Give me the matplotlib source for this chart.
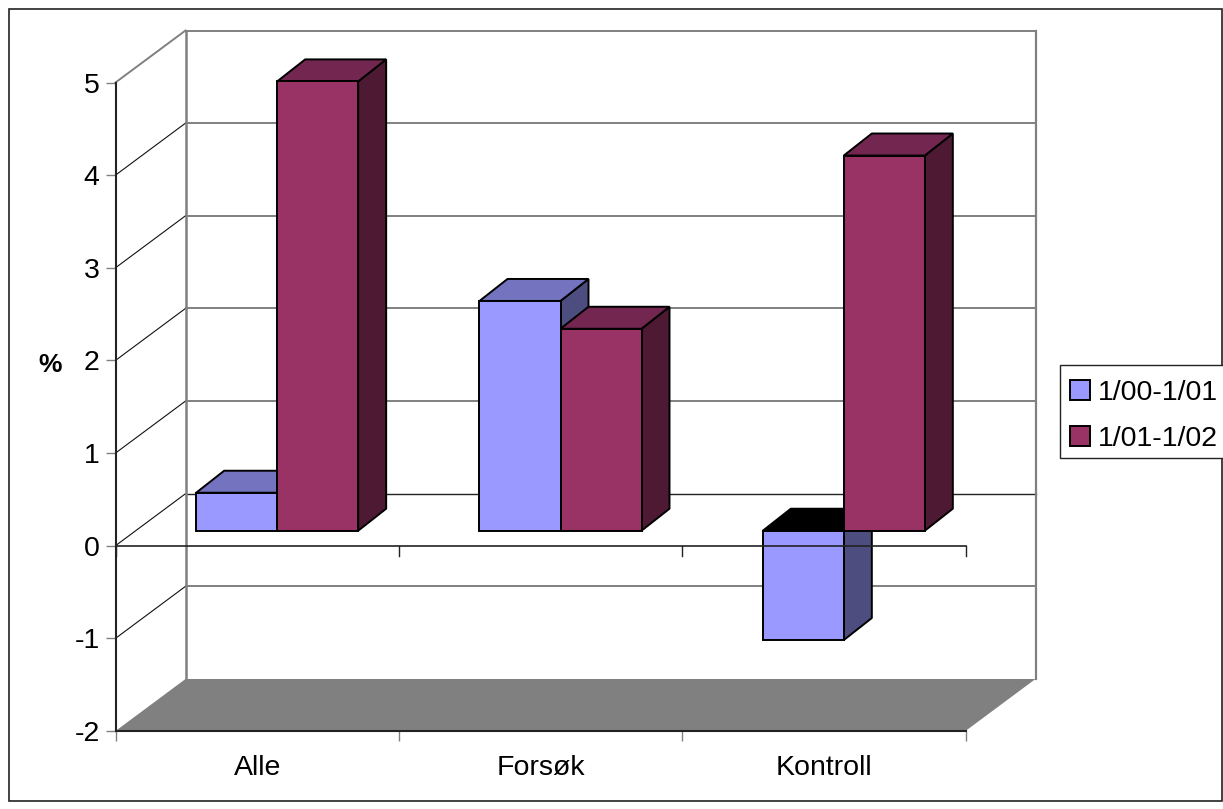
#!/usr/bin/python3
# 3D looking excel bar chart, percent change per group

import matplotlib
matplotlib.use("Agg")
import matplotlib.pyplot as plt
from matplotlib.patches import Patch, Polygon, Rectangle

plt.rcParams['font.family'] = ['Liberation Sans', 'DejaVu Sans']
plt.rcParams['axes.unicode_minus'] = False

categories = ["Alle", "Forsøk", "Kontroll"]
series_names = ["1/00-1/01", "1/01-1/02"]
values_1 = [0.41, 2.48, -1.18]
values_2 = [4.85, 2.18, 4.05]
y_ticks = [-2, -1, 0, 1, 2, 3, 4, 5]

W, H = 1223, 809
X0, X1, Y_TOP, Y_BOT = 115.5, 965.5, 82.5, 731

blue, blue_top, blue_side = "#9999FF", "#7373BF", "#4D4D80"
red, red_top, red_side = "#993366", "#732650", "#4D1933"
gray = "#808080"
dark = "#222222"

fig = plt.figure(figsize=(W / 100, H / 100), dpi=100)
fig.patch.set_facecolor("white")
fig.add_artist(Rectangle((8.5 / W, 1 - 800.5 / H), (1222 - 8.5) / W, (800.5 - 9) / H,
                         transform=fig.transFigure, fill=False, ec=dark, lw=1.2))

ax = fig.add_axes([X0 / W, 1 - Y_BOT / H, (X1 - X0) / W, (Y_BOT - Y_TOP) / H])
ax.set_xlim(0, 3)
ax.set_ylim(-2, 5)
ax.patch.set_visible(False)

# pixels -> data
px_x = 3 / (X1 - X0)
px_y = 7 / (Y_BOT - Y_TOP)
wall_dx, wall_dy = 70 * px_x, 52 * px_y
bar_dx, bar_dy = 28 * px_x, 22 * px_y
shift_x, base_y = 20 * px_x, 15 * px_y
bar_w = 81 * px_x

# floor
ax.add_patch(Polygon([(0, -2), (3, -2), (3 + wall_dx, -2 + wall_dy), (wall_dx, -2 + wall_dy)],
                     fc=gray, ec="none", clip_on=False, zorder=1))

# walls and grid
for t in y_ticks[1:]:
    col = dark if t == 0 else gray
    lw = 1.0 if t == 0 else 1.4
    ax.plot([wall_dx, 3 + wall_dx], [t + wall_dy, t + wall_dy], color=col, lw=lw, clip_on=False, zorder=1.5)
    diag = gray if t == 5 else "#111111"
    ax.plot([0, wall_dx], [t, t + wall_dy], color=diag, lw=1.4 if t == 5 else 0.8, clip_on=False, zorder=1.5)
ax.plot([wall_dx, wall_dx], [-2 + wall_dy, 5 + wall_dy], color=gray, lw=1.8, clip_on=False, zorder=1.6)
ax.plot([3 + wall_dx, 3 + wall_dx], [-2 + wall_dy, 5 + wall_dy], color=gray, lw=1.6, clip_on=False, zorder=1.6)


def draw_bar(x_left, v, face, top, side, z):
    x_right = x_left + bar_w
    hi = base_y + max(v, 0)
    lo = base_y + min(v, 0)
    ax.add_patch(Polygon([(x_right, lo), (x_right + bar_dx, lo + bar_dy),
                          (x_right + bar_dx, hi + bar_dy), (x_right, hi)],
                         fc=side, ec="black", lw=1.4, clip_on=False, zorder=z, joinstyle="bevel"))
    ax.add_patch(Polygon([(x_left, hi), (x_right, hi), (x_right + bar_dx, hi + bar_dy),
                          (x_left + bar_dx, hi + bar_dy)],
                         fc="black" if v < 0 else top, ec="black", lw=1.4, clip_on=False, zorder=z,
                         joinstyle="bevel"))
    ax.bar(x_left, v, bar_w, bottom=base_y, align="edge", color=face, edgecolor="black",
           linewidth=1.4, clip_on=False, zorder=z)


for i in range(len(categories)):
    center = i + 0.5 + shift_x
    draw_bar(center - bar_w, values_1[i], blue, blue_top, blue_side, 3 + i)
    draw_bar(center, values_2[i], red, red_top, red_side, 3.5 + i)

# zero line in front of the bars
ax.plot([0, 3], [0, 0], color=dark, lw=1.2, clip_on=False, zorder=8)
for i in range(4):
    ax.plot([i, i], [0, -10 * px_y], color=dark, lw=1.0, clip_on=False, zorder=8)

for s in ["top", "right"]:
    ax.spines[s].set_visible(False)
for s in ["left", "bottom"]:
    ax.spines[s].set_color(dark)
    ax.spines[s].set_linewidth(1.5)
    ax.spines[s].set_zorder(9)

ax.set_yticks(y_ticks)
ax.set_xticks([0, 1, 2, 3])
ax.set_xticklabels([])
ax.set_xticks([0.5, 1.5, 2.5], minor=True)
ax.set_xticklabels(categories, minor=True, fontsize=20.5, color="black")
ax.tick_params(axis="x", which="major", length=7.5, width=1.0, color=gray, direction="out")
ax.tick_params(axis="x", which="minor", length=0, pad=17.5)
ax.tick_params(axis="y", length=7.5, width=1.0, color=gray, direction="out", labelsize=20.5, pad=4)

fig.text(50 / W, 1 - 365 / H, "%", fontsize=19, fontweight="bold", ha="center", va="center")

# legend frame apart from the entries, the entries sit a bit low in the box
fig.add_artist(Rectangle((1059.5 / W, 1 - 458 / H), 170 / W, 93 / H, transform=fig.transFigure,
                         fc="white", ec=dark, lw=1.0))
handles = [Patch(fc=blue, ec="black", lw=1.4), Patch(fc=red, ec="black", lw=1.4)]
leg = fig.legend(handles, series_names, loc="upper left", bbox_to_anchor=(1059.5 / W, 1 - 370 / H),
                 borderaxespad=0, fontsize=20.5, frameon=False,
                 handlelength=0.7, handleheight=0.7, handletextpad=0.3,
                 labelspacing=0.68, borderpad=0.36)

fig.savefig("out.png", dpi=100)
